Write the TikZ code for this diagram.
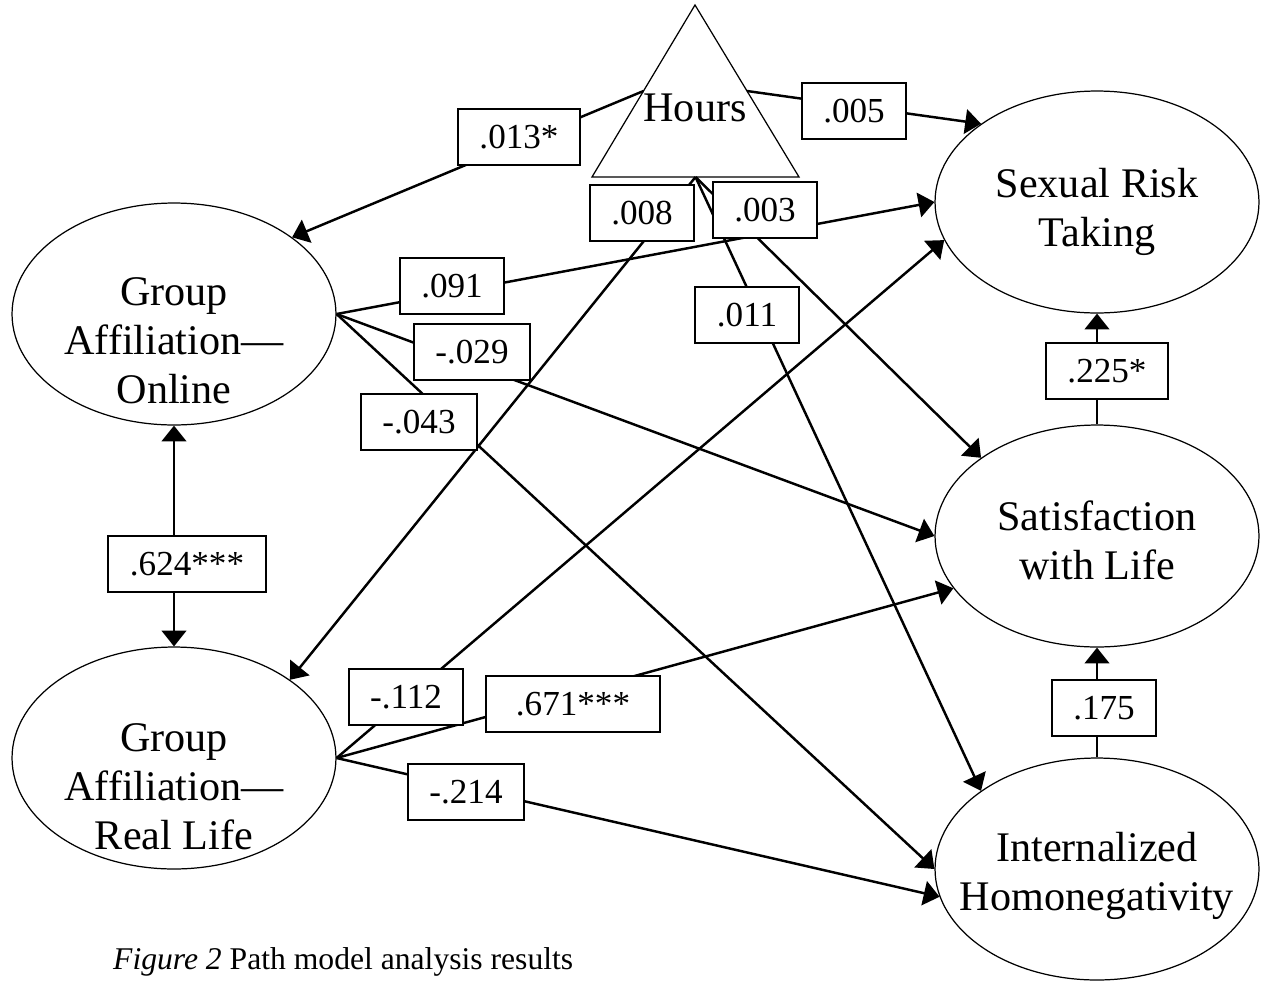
\documentclass[tikz,border=0pt]{standalone}
\usepackage{fontspec}
\setmainfont{Liberation Serif}
\usetikzlibrary{shapes.geometric,arrows.meta,calc}

\begin{document}
\begin{tikzpicture}[x=0.02cm, y=-0.02cm, >={Triangle[length=9pt,width=14pt]},
	latent/.style={draw, ellipse, line width=0.7pt, minimum width=6.48cm, minimum height=4.44cm, inner sep=0pt},
	vname/.style={align=center, font=\fontsize{24}{28}\selectfont},
	coef/.style={draw, fill=white, line width=1.1pt, minimum height=1.12cm, inner xsep=0.43cm, inner ysep=0pt, font=\fontsize{20}{24}\selectfont},
	link/.style={line width=1.4pt, ->}]
	\useasboundingbox (0,0) rectangle (1264,981);
	% hours triangle
	\coordinate (htop) at (695,5);
	\coordinate (hbl) at (592,177);
	\coordinate (hbr) at (799,177);
	\draw[line width=0.7pt] (htop) -- (hbl) -- (hbr) -- cycle;
	\coordinate (hl) at ($(htop)!0.5!(hbl)$);
	\coordinate (hr) at ($(htop)!0.5!(hbr)$);
	\coordinate (hb) at ($(hbl)!0.5!(hbr)$);
	\node[font=\fontsize{24}{28}\selectfont] (hours) at (695,108) {Hours};
	% variables
	\node[latent] (online) at (174,314) {};
	\node[latent] (real) at (174,758) {};
	\node[latent] (sexual) at (1097,202) {};
	\node[latent] (satis) at (1097,536) {};
	\node[latent] (intern) at (1097,869) {};
	\node[vname] (onlinetxt) at (174,341) {Group\\Affiliation—\\Online};
	\node[vname] (realtxt) at (174,787) {Group\\Affiliation—\\Real Life};
	\node[vname] (sexualtxt) at (1097,212) {Sexual Risk\\Taking};
	\node[vname] (satistxt) at (1097,540) {Satisfaction\\with Life};
	\node[vname] (interntxt) at (1097,876) {Internalized\\Homonegativity};
	% paths
	\draw[link] (hl) -- (online.33);
	\draw[link] (hr) -- (sexual.146);
	\draw[link] (hb) -- (real.34);
	\draw[link] (hb) -- (satis.146);
	\draw[link] (hb) -- (intern.146);
	\draw[link] (online.east) -- (sexual.west);
	\draw[link] (online.east) -- (satis.west);
	\draw[link] (online.east) -- (intern.west);
	\draw[link] (real.east) -- (sexual.194);
	\draw[link] (real.east) -- (satis.200);
	\draw[link] (real.east) -- (intern.190);
	\draw[link, <->] (online.south) -- (real.north);
	\draw[link] (satis.north) -- (sexual.south);
	\draw[link] (intern.north) -- (satis.south);
	% coefficients
	\node[coef] (c-hon) at (519,137) {.013*};
	\node[coef] (c-hsx) at (854,111) {.005};
	\node[coef] (c-hre) at (642,213) {.008};
	\node[coef] (c-hsa) at (765,210) {.003};
	\node[coef] (c-hin) at (747,315) {.011};
	\node[coef] (c-osx) at (452,286) {.091};
	\node[coef] (c-osa) at (472,352) {-.029};
	\node[coef] (c-oin) at (419,422) {-.043};
	\node[coef] (c-rsx) at (406,697) {-.112};
	\node[coef, minimum width=3.48cm] (c-rsa) at (573,704) {.671***};
	\node[coef] (c-rin) at (466,792) {-.214};
	\node[coef] (c-orl) at (187,564) {.624***};
	\node[coef] (c-sasx) at (1107,371) {.225*};
	\node[coef] (c-insa) at (1104,708) {.175};
	\node[anchor=base west, font=\fontsize{18}{22}\selectfont] (caption) at (107,969) {\textit{Figure 2} Path model analysis results};
\end{tikzpicture}
\end{document}
